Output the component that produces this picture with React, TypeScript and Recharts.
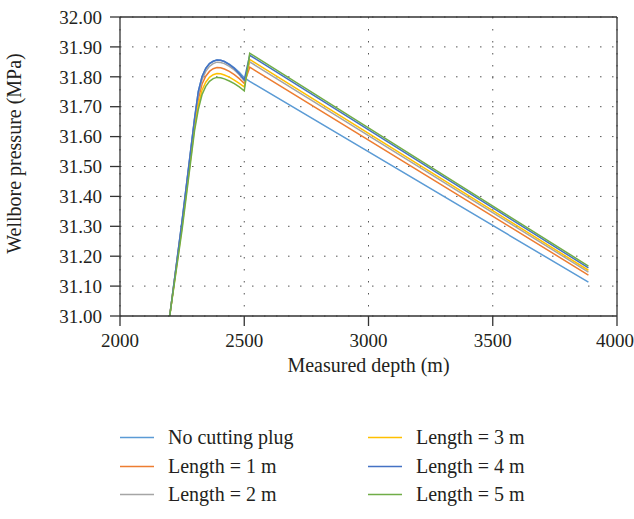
import React from 'react';
import {
  CartesianGrid,
  Line,
  LineChart,
  ReferenceLine,
  XAxis,
  YAxis,
} from 'recharts';

// measured depth (m) sample points
const depth = [2200, 2250, 2300, 2315, 2330, 2345, 2360, 2375, 2390, 2405, 2420, 2440, 2460, 2480, 2500, 2522, 3885];

// wellbore pressure (MPa) per case
const noPlug = [31.0, 31.32, 31.66, 31.75, 31.8, 31.828, 31.844, 31.852, 31.856, 31.855, 31.851, 31.842, 31.83, 31.815, 31.797, 31.785, 31.113];
const length1 = [31.0, 31.31, 31.645, 31.725, 31.775, 31.802, 31.818, 31.827, 31.831, 31.83, 31.826, 31.818, 31.807, 31.794, 31.778, 31.832, 31.137];
const length2 = [31.0, 31.315, 31.655, 31.74, 31.79, 31.818, 31.835, 31.844, 31.849, 31.848, 31.844, 31.835, 31.823, 31.807, 31.787, 31.85, 31.147];
const length3 = [31.0, 31.3, 31.63, 31.705, 31.755, 31.782, 31.798, 31.807, 31.811, 31.81, 31.806, 31.799, 31.789, 31.778, 31.766, 31.858, 31.153];
const length4 = [31.0, 31.32, 31.66, 31.75, 31.8, 31.828, 31.844, 31.852, 31.856, 31.855, 31.851, 31.841, 31.828, 31.81, 31.79, 31.872, 31.161];
const length5 = [31.0, 31.29, 31.62, 31.69, 31.74, 31.768, 31.785, 31.794, 31.798, 31.797, 31.793, 31.786, 31.777, 31.766, 31.753, 31.879, 31.167];

const xTicks = [2000, 2500, 3000, 3500, 4000];
const yTicks = [31.0, 31.1, 31.2, 31.3, 31.4, 31.5, 31.6, 31.7, 31.8, 31.9, 32.0];

const series = [
  { key: 'noPlug', name: 'No cutting plug', color: '#5B9BD5', values: noPlug },
  { key: 'length1', name: 'Length = 1 m', color: '#ED7D31', values: length1 },
  { key: 'length2', name: 'Length = 2 m', color: '#A5A5A5', values: length2 },
  { key: 'length3', name: 'Length = 3 m', color: '#FFC000', values: length3 },
  { key: 'length4', name: 'Length = 4 m', color: '#4472C4', values: length4 },
  { key: 'length5', name: 'Length = 5 m', color: '#70AD47', values: length5 },
];

const data = depth.map((d, i) => {
  const row: Record<string, number> = { depth: d };
  series.forEach((s) => {
    row[s.key] = s.values[i];
  });
  return row;
});

const FONT = '"Liberation Serif", "DejaVu Serif", serif';
const INK = '#231F20';
const AXIS = '#333333';

function YTitle(props: any) {
  const { viewBox } = props;
  const cy = viewBox.y + viewBox.height / 2 - 13;
  return (
    <text
      x={21}
      y={cy}
      transform={`rotate(-90 21 ${cy})`}
      textAnchor="middle"
      fontFamily={FONT}
      fontSize={20}
      fill={INK}
    >
      Wellbore pressure (MPa)
    </text>
  );
}

function XTitle(props: any) {
  const { viewBox } = props;
  return (
    <text
      x={viewBox.x + viewBox.width / 2}
      y={372}
      textAnchor="middle"
      fontFamily={FONT}
      fontSize={20}
      fill={INK}
    >
      Measured depth (m)
    </text>
  );
}

export default function App() {
  return (
    <div style={{ position: 'absolute', left: 0, top: 0, width: 634, height: 519, background: '#fff' }}>
      <LineChart width={634} height={519} data={data} margin={{ top: 17, right: 17, left: 0, bottom: 0 }}>
        <CartesianGrid stroke="#555" strokeDasharray="1.5 10.5" />
        <XAxis
          dataKey="depth"
          type="number"
          domain={[2000, 4000]}
          ticks={xTicks}
          height={203}
          tickSize={10}
          tickMargin={8}
          stroke={AXIS}
          strokeWidth={1.3}
          tick={{ fill: INK, fontSize: 19, fontFamily: FONT }}
          label={{ content: XTitle }}
        />
        <YAxis
          type="number"
          domain={[31, 32]}
          ticks={yTicks}
          width={120}
          tickSize={10}
          tickMargin={8}
          stroke={AXIS}
          strokeWidth={1.3}
          tickFormatter={(v: number) => v.toFixed(2)}
          tick={{ fill: INK, fontSize: 19, fontFamily: FONT }}
          label={{ content: YTitle }}
        />
        <ReferenceLine y={32} stroke={AXIS} strokeWidth={1.3} />
        <ReferenceLine x={4000} stroke={AXIS} strokeWidth={1.3} />
        {series.map((s) => (
          <Line
            key={s.key}
            type="linear"
            dataKey={s.key}
            name={s.name}
            stroke={s.color}
            strokeWidth={1.5}
            dot={false}
            isAnimationActive={false}
          />
        ))}
      </LineChart>
      <svg
        width={634}
        height={100}
        style={{ position: 'absolute', left: 0, top: 419 }}
      >
        {series.map((s, i) => {
          const col = Math.floor(i / 3);
          const y = 18 + (i % 3) * 29 - (i % 3 === 2 ? 1 : 0);
          const lineLeft = col === 0 ? 120 : 368;
          const textLeft = col === 0 ? 168 : 416;
          return (
            <g key={s.key}>
              <line x1={lineLeft} x2={lineLeft + 34} y1={y + 0.5} y2={y + 0.5} stroke={s.color} strokeWidth={1.5} />
              <text x={textLeft} y={y + 7} fontFamily={FONT} fontSize={20} fill={INK}>
                {s.name}
              </text>
            </g>
          );
        })}
      </svg>
    </div>
  );
}
